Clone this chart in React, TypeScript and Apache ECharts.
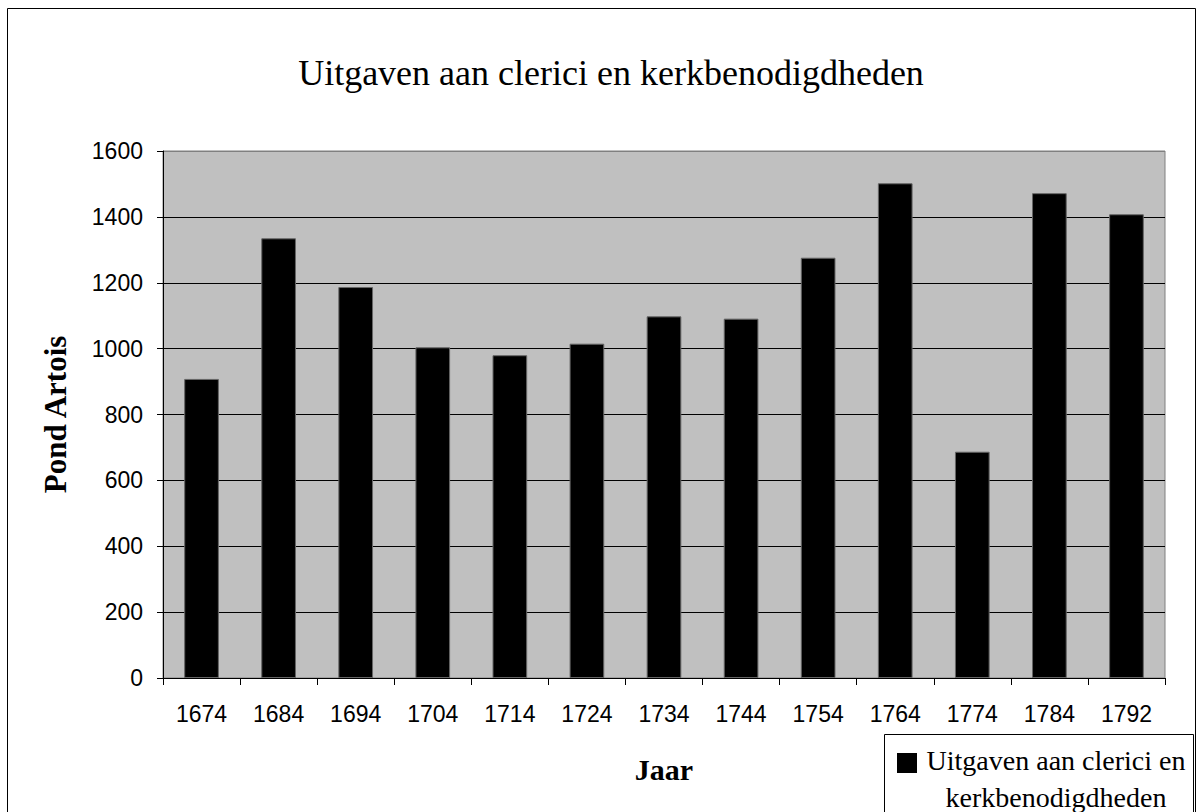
import React, { useEffect, useRef } from "react";
import * as echarts from "echarts";

const years = ["1674", "1684", "1694", "1704", "1714", "1724", "1734", "1744", "1754", "1764", "1774", "1784", "1792"];
const expenses = [908, 1335, 1187, 1004, 980, 1015, 1098, 1091, 1276, 1502, 687, 1472, 1408];
const seriesName = "Uitgaven aan clerici en kerkbenodigdheden";
const titleText = "Uitgaven aan clerici en kerkbenodigdheden";
const yAxisName = "Pond Artois";
const xAxisName = "Jaar";
const legendLine1 = "Uitgaven aan clerici en";
const legendLine2 = "kerkbenodigdheden";

export default function App() {
  const ref = useRef<HTMLDivElement>(null);
  useEffect(() => {
    if (!ref.current) return;
    const chart = echarts.init(ref.current, null, { renderer: "svg" });
    const serif = "'Liberation Serif', 'Times New Roman', serif";
    const sans = "'Liberation Sans', Arial, sans-serif";
    chart.setOption({
      animation: false,
      backgroundColor: "#ffffff",
      title: {
        text: titleText,
        left: 606,
        top: 50,
        textAlign: "center",
        textStyle: { fontFamily: serif, fontSize: 36, fontWeight: "normal", color: "#000" },
      },
      grid: {
        left: 163,
        right: 31,
        top: 151,
        bottom: 134,
        show: true,
        backgroundColor: "#C0C0C0",
        borderColor: "#808080",
        borderWidth: 1,
      },
      xAxis: {
        type: "category",
        data: years,
        name: xAxisName,
        nameLocation: "middle",
        nameGap: 76,
        nameTextStyle: { fontFamily: serif, fontSize: 30, fontWeight: "bold", color: "#000" },
        axisLine: { show: true, lineStyle: { color: "#000", width: 1 } },
        axisTick: { show: true, length: 7, alignWithLabel: false, lineStyle: { color: "#000" } },
        axisLabel: { fontFamily: sans, fontSize: 23, color: "#000", margin: 24, interval: 0 },
        splitLine: { show: false },
      },
      yAxis: {
        type: "value",
        min: 0,
        max: 1600,
        interval: 200,
        name: yAxisName,
        nameLocation: "middle",
        nameGap: 92,
        nameTextStyle: { fontFamily: serif, fontSize: 31, fontWeight: "bold", color: "#000" },
        axisLine: { show: true, lineStyle: { color: "#000", width: 1 } },
        axisTick: { show: true, length: 6, inside: false, lineStyle: { color: "#000" } },
        axisLabel: {
          fontFamily: sans,
          fontSize: 23,
          color: "#000",
          margin: 20,
          formatter: (v: number) => String(v),
        },
        splitLine: {
          show: true,
          lineStyle: {
            color: ["#000", "#000", "#000", "#000", "#000", "#000", "#000", "#000", "#808080"],
            width: 1,
          },
        },
      },
      series: [
        {
          name: seriesName,
          type: "bar",
          data: expenses,
          barWidth: "45%",
          itemStyle: { color: "#000", borderColor: "#666", borderWidth: 1 },
        },
      ],
      graphic: [
        {
          type: "rect",
          shape: { x: 7.5, y: 8.5, width: 1188, height: 900 },
          style: { fill: "none", stroke: "#000", lineWidth: 1 },
          silent: true,
          z: 100,
        },
        {
          type: "group",
          z: 100,
          children: [
            {
              type: "rect",
              shape: { x: 884.5, y: 734.5, width: 309, height: 100 },
              style: { fill: "#fff", stroke: "#000", lineWidth: 1 },
            },
            {
              type: "rect",
              shape: { x: 897, y: 753, width: 20, height: 20 },
              style: { fill: "#000" },
            },
            {
              type: "text",
              x: 1056,
              y: 760,
              style: {
                text: legendLine1,
                fontFamily: serif,
                fontSize: 28,
                fill: "#000",
                align: "center",
                verticalAlign: "middle",
              },
            },
            {
              type: "text",
              x: 1056,
              y: 797,
              style: {
                text: legendLine2,
                fontFamily: serif,
                fontSize: 28,
                fill: "#000",
                align: "center",
                verticalAlign: "middle",
              },
            },
          ],
        },
      ],
    });
    return () => chart.dispose();
  }, []);
  return (
    <div
      ref={ref}
      style={{ position: "fixed", left: 0, top: 0, width: 1196, height: 812 }}
    />
  );
}
